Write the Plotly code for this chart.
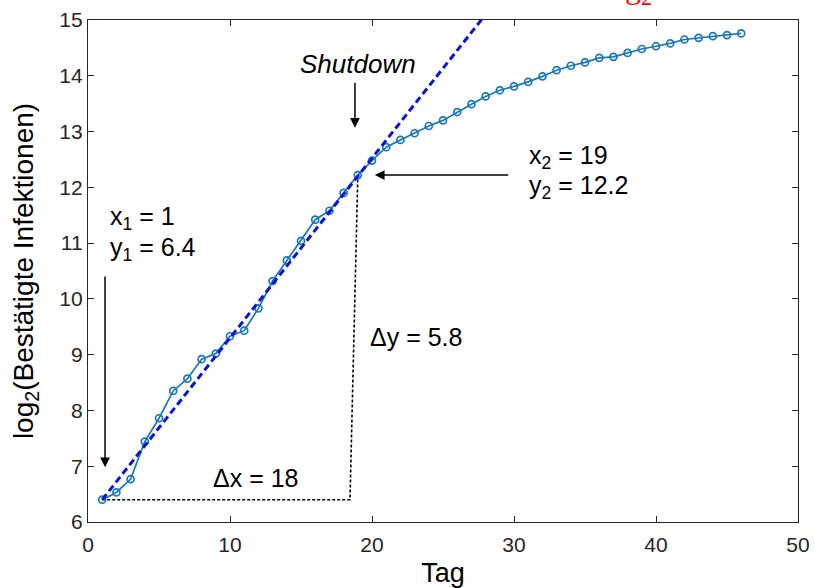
import plotly.graph_objects as go

days = list(range(1, 47))
log2_cases = [6.40, 6.53, 6.77, 7.44, 7.86, 8.35, 8.57, 8.92, 9.02, 9.33,
              9.43, 9.83, 10.32, 10.69, 11.04, 11.42, 11.58, 11.90, 12.22, 12.48,
              12.72, 12.85, 12.97, 13.10, 13.20, 13.35, 13.49, 13.63, 13.74, 13.81,
              13.89, 13.99, 14.10, 14.18, 14.24, 14.32, 14.34, 14.41, 14.48, 14.53,
              14.58, 14.65, 14.68, 14.71, 14.73, 14.76]

x1, y1 = 1, 6.4
x2, y2 = 19, 12.2
x_fit_end = 30
corner_x = 18.45

FONT = "Arial, 'Liberation Sans', sans-serif"
AX = "#262626"

slope = (y2 - y1) / (x2 - x1)
fit_x = [x1, x_fit_end]
fit_y = [y1, y1 + slope * (x_fit_end - x1)]

fig = go.Figure()
fig.add_trace(go.Scatter(x=[x1, corner_x, x2], y=[y1, y1, y2], mode="lines",
                         line=dict(color="black", width=1.6, dash="3px,2px"),
                         showlegend=False, hoverinfo="skip"))
fig.add_trace(go.Scatter(x=days, y=log2_cases, mode="lines+markers",
                         line=dict(color="#1878bb", width=1.7),
                         marker=dict(symbol="circle-open", size=7,
                                     color="#1878bb", line=dict(width=1.7)),
                         showlegend=False))
fig.add_trace(go.Scatter(x=fit_x, y=fit_y, mode="lines",
                         line=dict(color="#0a14d2", width=3, dash="7px,4px"),
                         showlegend=False, hoverinfo="skip"))

def arrow(x0, y0, x1_, y1_):
    fig.add_annotation(x=x1_, y=y1_, ax=x0, ay=y0, xref="x", yref="y",
                       axref="x", ayref="y", text="", showarrow=True,
                       arrowhead=2, arrowsize=1.3, arrowwidth=1.5,
                       arrowcolor="black")

arrow(18.8, 13.9, 18.8, 13.07)
arrow(29.7, 12.22, 20.2, 12.22)
arrow(1.2, 10.43, 1.2, 6.98)

def text(x, y, s, anchor="left", italic=False, size=25):
    fig.add_annotation(x=x, y=y, xref="x", yref="y", text=s, showarrow=False,
                       xanchor=anchor, yanchor="middle",
                       font=dict(family=FONT, size=size, color="black",
                                 style="italic" if italic else "normal"))

text(19.0, 14.22, "Shutdown", anchor="center", italic=True, size=26)
text(30.9, 12.55, "x<sub>2</sub> = 19")
text(30.9, 12.0, "y<sub>2</sub> = 12.2")
text(1.4, 11.45, "x<sub>1</sub> = 1")
text(1.4, 10.9, "y<sub>1</sub> = 6.4")
text(11.8, 6.79, "Δx = 18", anchor="center")
text(19.7, 9.32, "Δy = 5.8")

fig.add_annotation(x=37.9, y=1.015, xref="x", yref="paper", text="log<sub>2</sub>",
                   showarrow=False, xanchor="center", yanchor="bottom",
                   font=dict(family="'Liberation Serif', 'Times New Roman', serif",
                             size=32, color="red"))

axis_common = dict(showline=True, linecolor=AX, linewidth=1.3, mirror="ticks",
                   ticks="inside", ticklen=6, tickwidth=1.2, tickcolor=AX,
                   showgrid=False, zeroline=False, automargin=False,
                   tickfont=dict(family=FONT, size=21, color=AX))

fig.update_xaxes(range=[0, 50], tickvals=[0, 10, 20, 30, 40, 50],
                 ticklabelstandoff=4,
                 title=dict(text="Tag", font=dict(family=FONT, size=27, color="black"),
                            standoff=8),
                 **axis_common)
fig.update_yaxes(range=[6, 15], tickvals=list(range(6, 16)),
                 title=dict(text="log<sub>2</sub>(Bestätigte Infektionen)",
                            font=dict(family=FONT, size=28, color="black"),
                            standoff=17),
                 **axis_common)

fig.update_layout(width=815, height=588, margin=dict(l=88, r=17, t=20, b=66),
                  plot_bgcolor="white", paper_bgcolor="white", showlegend=False)

fig.write_html("out.html", config={"displayModeBar": False},
               post_script="document.body.style.margin='0';")
